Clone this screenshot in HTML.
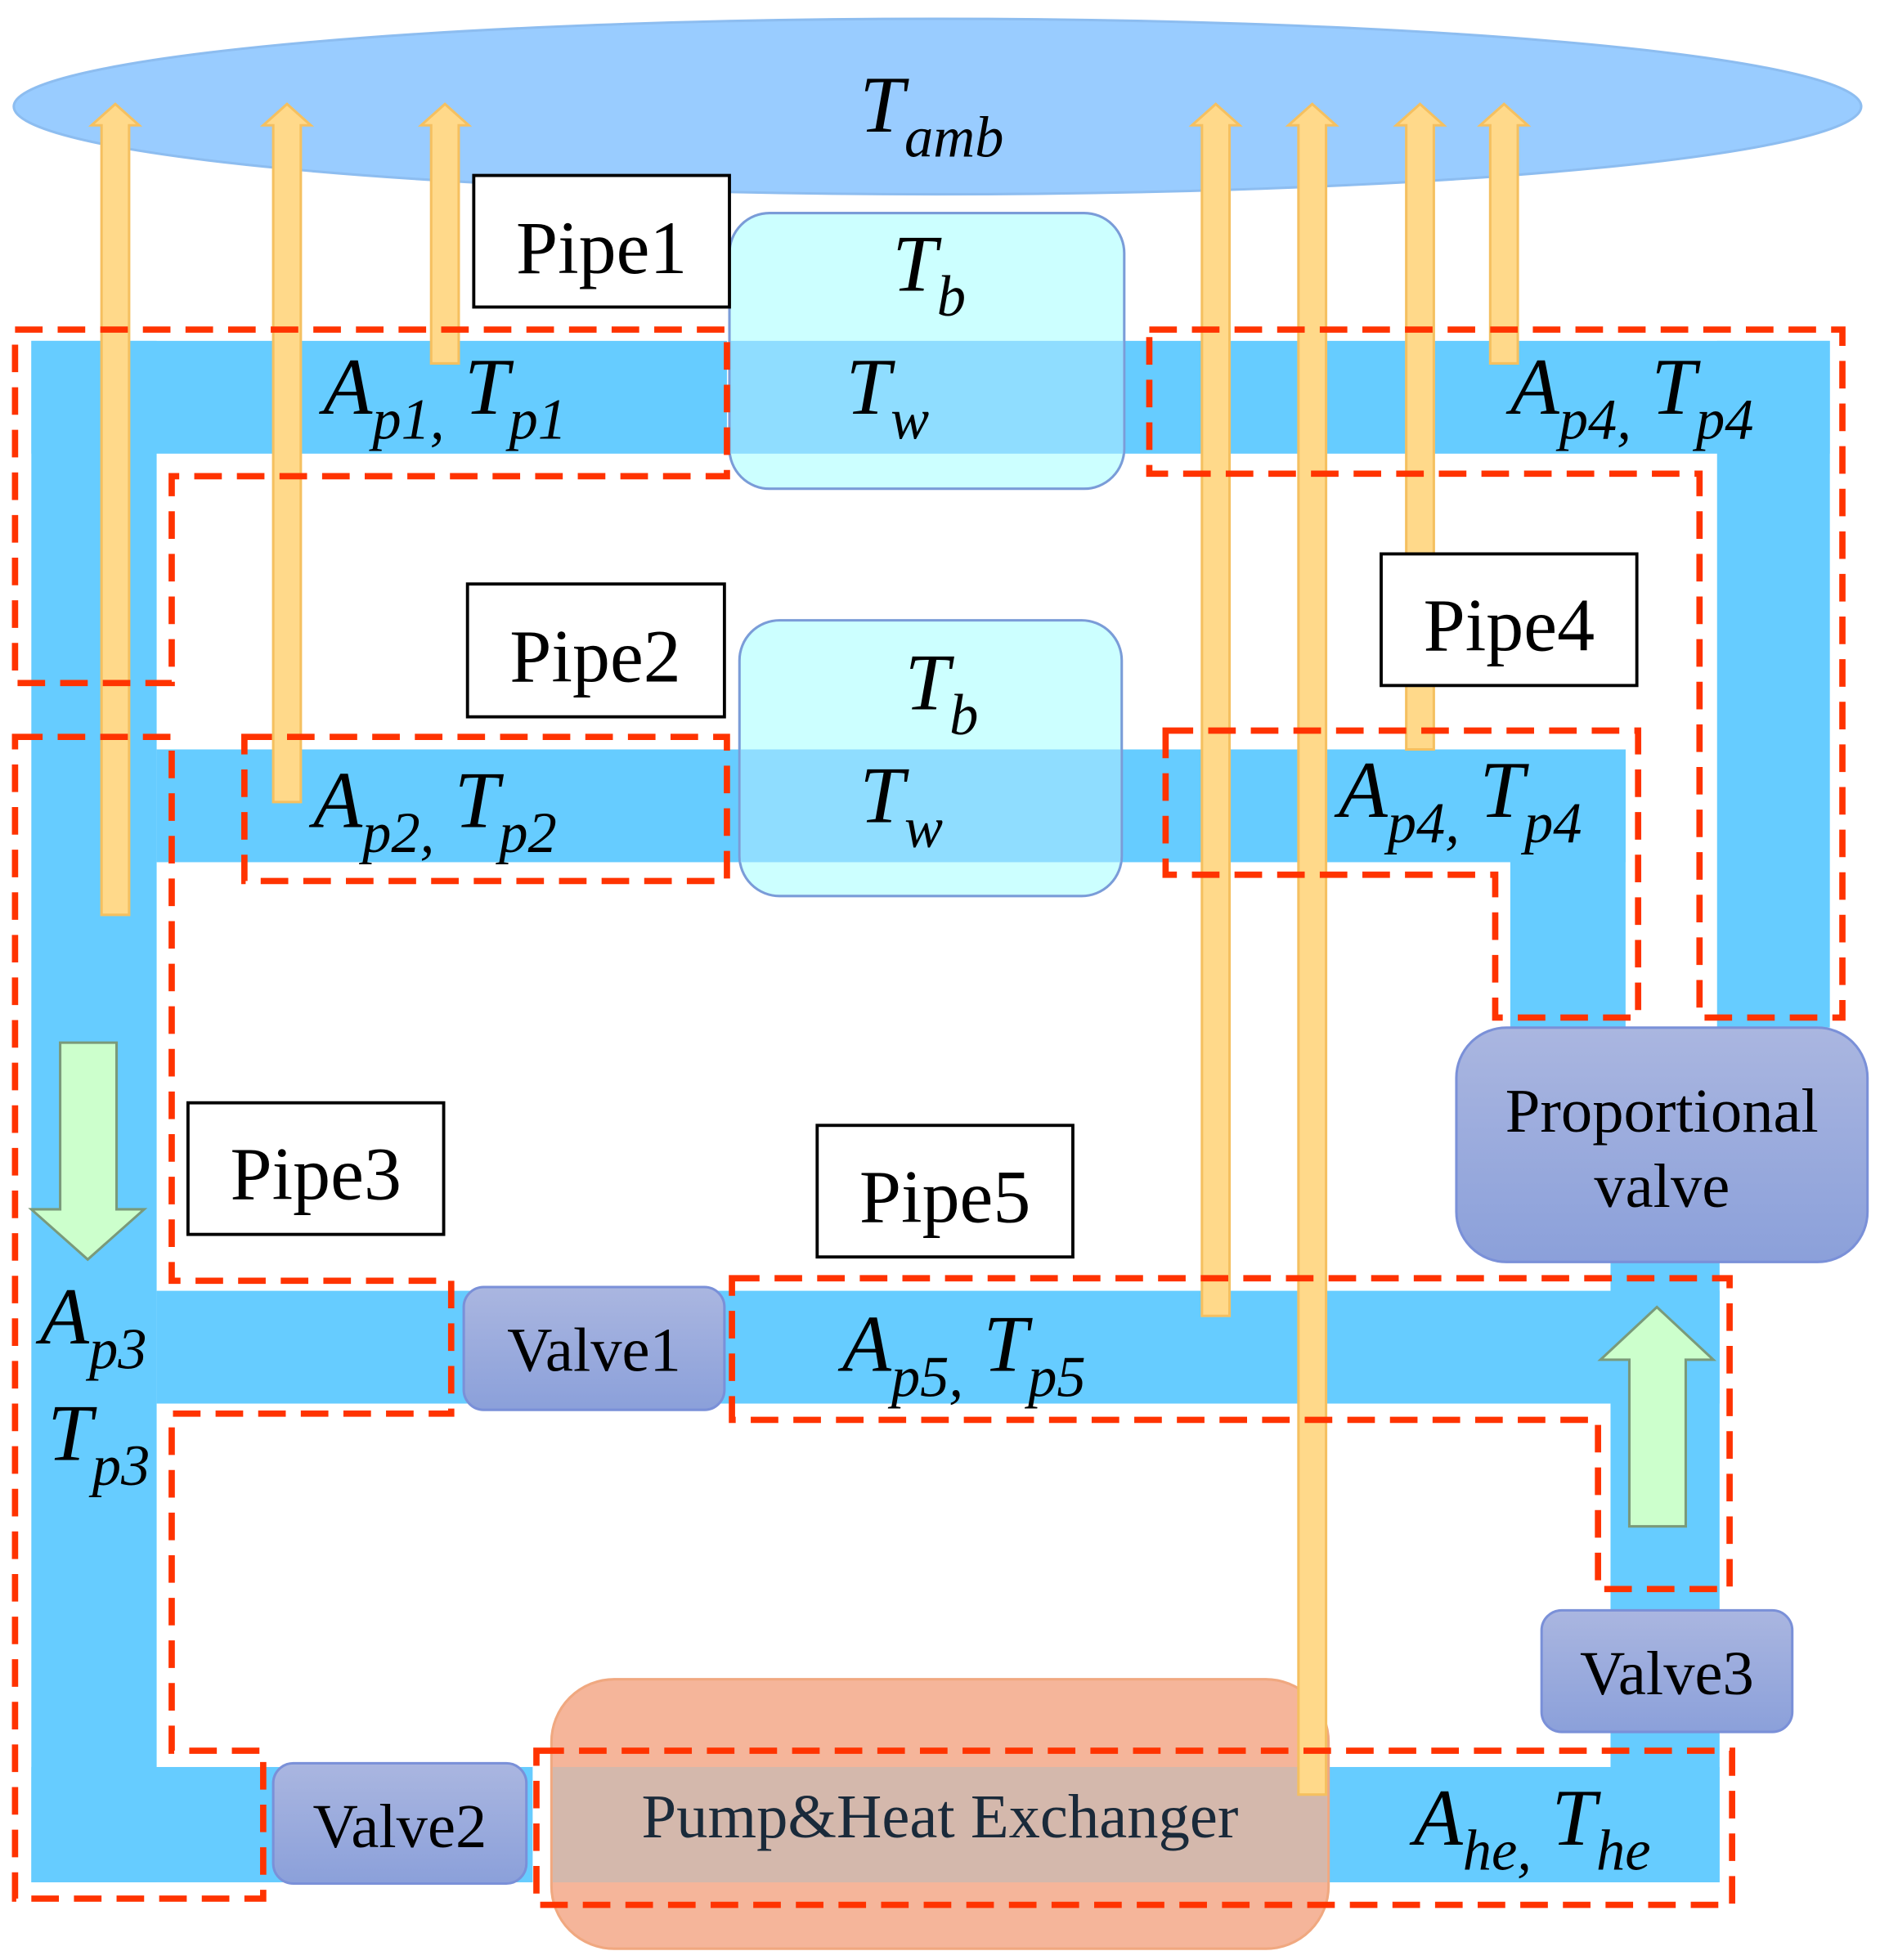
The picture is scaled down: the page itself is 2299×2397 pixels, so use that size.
<!DOCTYPE html>
<html><head><meta charset="utf-8"><style>
html,body{margin:0;padding:0;background:#fff;}
svg{display:block;}
text{font-family:"Liberation Serif",serif;}
.m{font-style:italic;font-size:64px;fill:#000;}
.s{font-size:46px;}
.lbl{font-size:60px;fill:#000;}
</style></head><body>
<svg width="2299" height="2397" viewBox="0 0 1500 1564" preserveAspectRatio="none" xmlns="http://www.w3.org/2000/svg">
<defs>
<linearGradient id="vg" x1="0" y1="0" x2="0" y2="1"><stop offset="0" stop-color="#AAB6E0"/><stop offset="1" stop-color="#8BA0DA"/></linearGradient>
</defs>
<!-- ambient ellipse -->
<ellipse cx="748" cy="85" rx="737" ry="70" fill="#99CCFF" stroke="#8DBDF0" stroke-width="2"/>
<text x="686" y="105" class="m">T<tspan class="s" dy="20">amb</tspan></text>

<!-- pipes -->
<g fill="#66CCFF">
<rect x="25" y="272" width="555" height="90"/>
<rect x="897" y="272" width="563" height="90"/>
<rect x="25" y="272" width="100" height="1230"/>
<rect x="1370" y="272" width="90" height="548"/>
<rect x="125" y="598" width="465" height="90"/>
<rect x="895" y="598" width="402" height="90"/>
<rect x="1205" y="598" width="92" height="222"/>
<rect x="125" y="1030" width="1247" height="90"/>
<rect x="1285" y="1005" width="87" height="497"/>
<rect x="25" y="1410" width="400" height="92"/>
<rect x="1060" y="1410" width="312" height="92"/>
</g>

<!-- Tb/Tw boxes -->
<rect x="582" y="170" width="315" height="220" rx="32" fill="#CCFFFF" stroke="#7A9CD8" stroke-width="2"/>
<rect x="583" y="272" width="313" height="90" fill="#8FDDFF"/>
<rect x="590" y="495" width="305" height="220" rx="32" fill="#CCFFFF" stroke="#7A9CD8" stroke-width="2"/>
<rect x="591" y="598" width="303" height="90" fill="#8FDDFF"/>
<text x="712" y="232" class="m">T<tspan class="s" dy="20">b</tspan></text>
<text x="675" y="330" class="m">T<tspan class="s" dy="20">w</tspan></text>
<text x="722" y="566" class="m">T<tspan class="s" dy="20">b</tspan></text>
<text x="686" y="656" class="m">T<tspan class="s" dy="20">w</tspan></text>

<!-- pump -->
<rect x="440" y="1340" width="620" height="215" rx="50" fill="#F5B59A" stroke="#F0A880" stroke-width="2"/>
<rect x="441" y="1410" width="618" height="92" fill="#D4B8AC"/>
<text x="750" y="1466" text-anchor="middle" style="font-size:50px;fill:#1a2a3a">Pump&amp;Heat Exchanger</text>

<!-- valves -->
<rect x="1162" y="820" width="328" height="187" rx="40" fill="url(#vg)" stroke="#7A90D8" stroke-width="2"/>
<text x="1326" y="903" text-anchor="middle" class="lbl" style="font-size:50px">Proportional</text>
<text x="1326" y="963" text-anchor="middle" class="lbl" style="font-size:50px">valve</text>
<rect x="370" y="1027" width="208" height="98" rx="16" fill="url(#vg)" stroke="#7A90D8" stroke-width="2"/>
<text x="474" y="1094" text-anchor="middle" class="lbl" style="font-size:50px">Valve1</text>
<rect x="218" y="1407" width="202" height="96" rx="16" fill="url(#vg)" stroke="#7A90D8" stroke-width="2"/>
<text x="319" y="1474" text-anchor="middle" class="lbl" style="font-size:50px">Valve2</text>
<rect x="1230" y="1285" width="200" height="97" rx="16" fill="url(#vg)" stroke="#7A90D8" stroke-width="2"/>
<text x="1330" y="1352" text-anchor="middle" class="lbl" style="font-size:50px">Valve3</text>

<!-- orange heat arrows -->
<g fill="#FFD98A" stroke="#F5C060" stroke-width="2">
<path d="M81,730 V100 H73 L92,83 L111,100 H103 V730 Z"/>
<path d="M218,640 V100 H210 L229,83 L248,100 H240 V640 Z"/>
<path d="M344,290 V100 H336 L355,83 L374,100 H366 V290 Z"/>
<path d="M959,1050 V100 H951 L970,83 L989,100 H981 V1050 Z"/>
<path d="M1036,1432 V100 H1028 L1047,83 L1066,100 H1058 V1432 Z"/>
<path d="M1122,598 V100 H1114 L1133,83 L1152,100 H1144 V598 Z"/>
<path d="M1189,290 V100 H1181 L1200,83 L1219,100 H1211 V290 Z"/>
</g>

<!-- green flow arrows -->
<path d="M48,832 H93 V965 H115 L70,1005 L25,965 H48 Z" fill="#CCFFCC" stroke="#7A9A7A" stroke-width="2"/>
<path d="M1300,1218 H1345 V1085 H1367 L1322,1043 L1277,1085 H1300 Z" fill="#CCFFCC" stroke="#7A9A7A" stroke-width="2"/>

<!-- dashed boundaries -->
<g fill="none" stroke="#FF3300" stroke-width="5" stroke-dasharray="22,12">
<path d="M12,263 H580 V380 H137 V545 H12 Z"/>
<path d="M917,263 H1470 V812 H1356 V378 H917 Z"/>
<path d="M12,588 H137 V1022 H360 V1128 H137 V1397 H210 V1515 H12 Z"/>
<path d="M195,588 H580 V703 H195 Z"/>
<path d="M930,583 H1307 V812 H1193 V698 H930 Z"/>
<path d="M584,1020 H1380 V1268 H1275 V1133 H584 Z"/>
<path d="M428,1397 H1382 V1520 H428 Z"/>
</g>

<!-- pipe name boxes -->
<g fill="#fff" stroke="#000" stroke-width="2.5">
<rect x="378" y="140" width="204" height="105"/>
<rect x="373" y="466" width="205" height="106"/>
<rect x="1102" y="442" width="204" height="105"/>
<rect x="150" y="880" width="204" height="105"/>
<rect x="652" y="898" width="204" height="105"/>
</g>
<text x="480" y="218" text-anchor="middle" class="lbl">Pipe1</text>
<text x="475" y="544" text-anchor="middle" class="lbl">Pipe2</text>
<text x="1204" y="519" text-anchor="middle" class="lbl">Pipe4</text>
<text x="252" y="957" text-anchor="middle" class="lbl">Pipe3</text>
<text x="754" y="975" text-anchor="middle" class="lbl">Pipe5</text>

<!-- math labels -->
<text x="258" y="330" class="m">A<tspan class="s" dy="20">p1,</tspan><tspan dy="-20"> T</tspan><tspan class="s" dy="20">p1</tspan></text>
<text x="1205" y="330" class="m">A<tspan class="s" dy="20">p4,</tspan><tspan dy="-20"> T</tspan><tspan class="s" dy="20">p4</tspan></text>
<text x="250" y="660" class="m">A<tspan class="s" dy="20">p2,</tspan><tspan dy="-20"> T</tspan><tspan class="s" dy="20">p2</tspan></text>
<text x="1068" y="652" class="m">A<tspan class="s" dy="20">p4,</tspan><tspan dy="-20"> T</tspan><tspan class="s" dy="20">p4</tspan></text>
<text x="672" y="1094" class="m">A<tspan class="s" dy="20">p5,</tspan><tspan dy="-20"> T</tspan><tspan class="s" dy="20">p5</tspan></text>
<text x="32" y="1072" class="m">A<tspan class="s" dy="20">p3</tspan></text>
<text x="38" y="1165" class="m">T<tspan class="s" dy="20">p3</tspan></text>
<text x="1128" y="1472" class="m">A<tspan class="s" dy="20">he,</tspan><tspan dy="-20"> T</tspan><tspan class="s" dy="20">he</tspan></text>
</svg>
</body></html>
